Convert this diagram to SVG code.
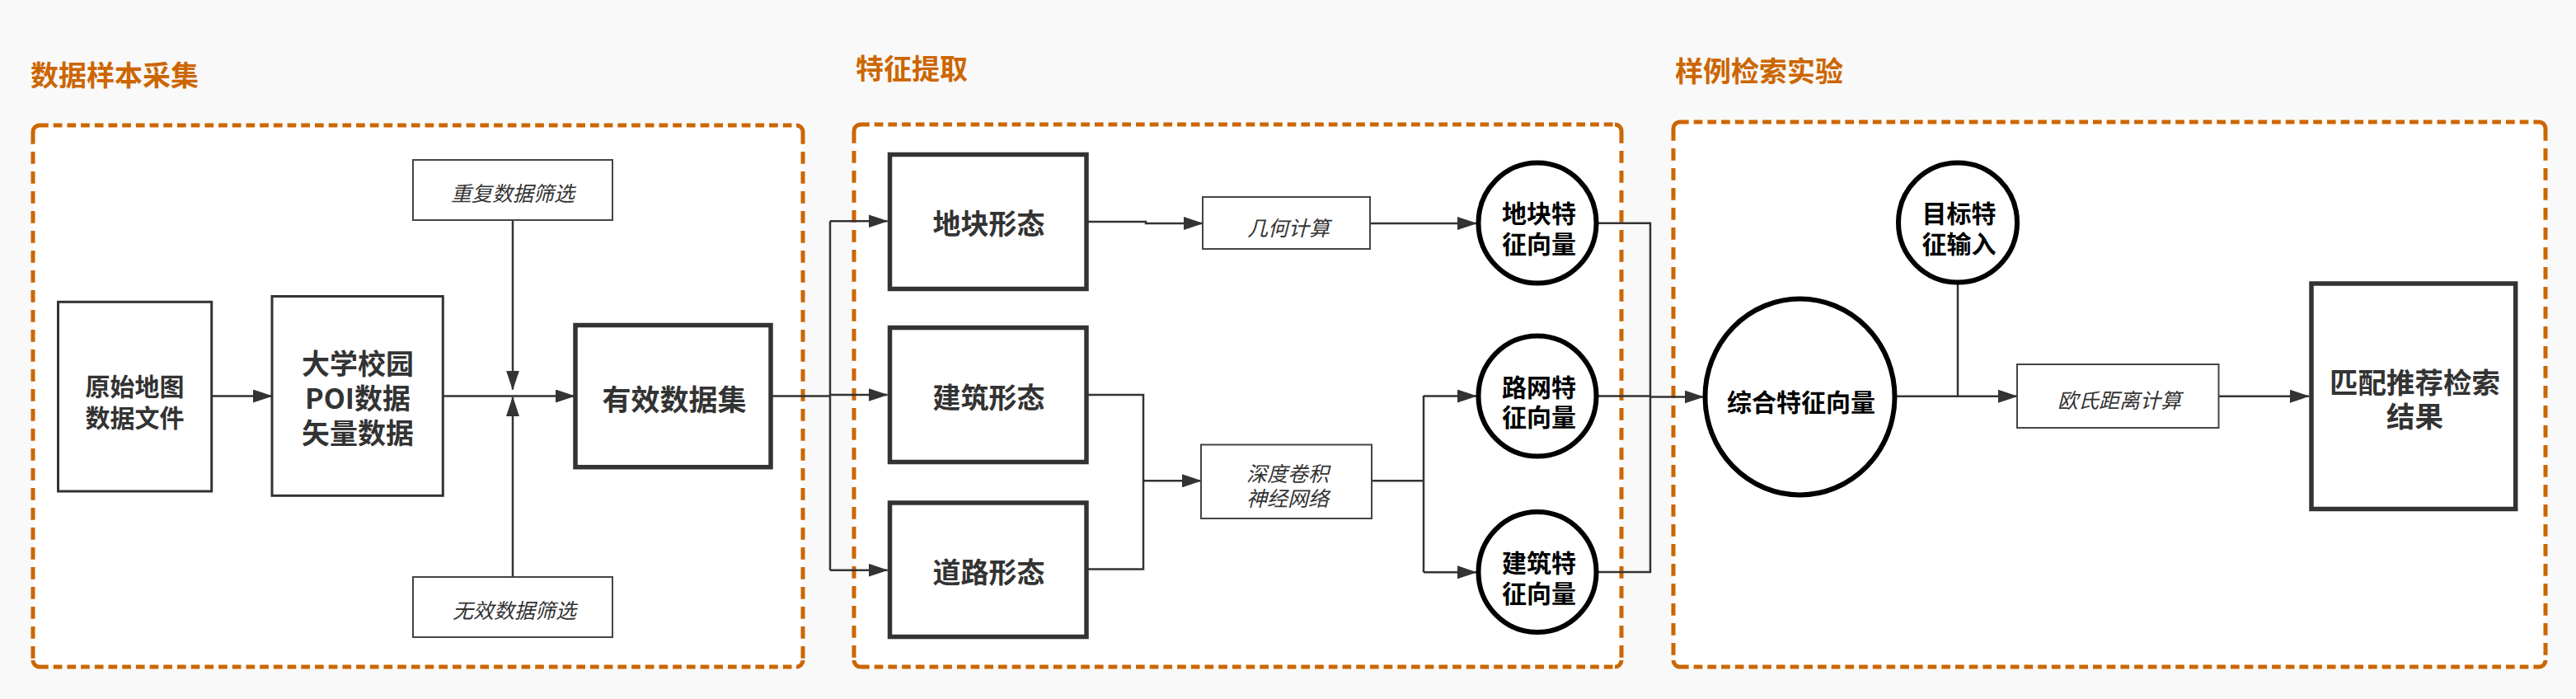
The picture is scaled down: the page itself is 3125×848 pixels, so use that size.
<svg xmlns="http://www.w3.org/2000/svg" width="3125" height="848" viewBox="0 0 3125 848">
<defs>
<marker id="arr" markerWidth="24" markerHeight="16" refX="23" refY="8" orient="auto" markerUnits="userSpaceOnUse"><path d="M0,0 L24,8 L0,16 Z" fill="#333"/></marker>
<style>
.bg{fill:#f9f9f9}
.panel{fill:#fff;stroke:none}
.dh{fill:none;stroke:#cc6600;stroke-width:5;stroke-dasharray:10.7 6}
.dv{fill:none;stroke:#cc6600;stroke-width:5;stroke-dasharray:14.7 9.3}
.dc{fill:none;stroke:#cc6600;stroke-width:5}
.title{font-family:"Noto Sans CJK SC",sans-serif;font-weight:bold;font-size:34px;fill:#cc6600;dominant-baseline:central}
.thick{fill:#fff;stroke:#333;stroke-width:5.5}
.med{fill:#fff;stroke:#333;stroke-width:3}
.thin{fill:#fff;stroke:#444;stroke-width:2}
.circ{fill:#fff;stroke:#000;stroke-width:6}
.bt{font-family:"Noto Sans CJK SC",sans-serif;font-weight:bold;fill:#333;text-anchor:middle;dominant-baseline:central}
.ct{font-family:"Noto Sans CJK SC",sans-serif;font-weight:bold;fill:#000;text-anchor:middle;dominant-baseline:central;font-size:30px}
.it{font-family:"Noto Sans CJK SC",sans-serif;font-style:italic;fill:#333;text-anchor:middle;dominant-baseline:central;font-size:25px}
.con{fill:none;stroke:#333;stroke-width:2.5}
.arw{marker-end:url(#arr)}
</style>
</defs>
<rect class="bg" x="0" y="0" width="3125" height="848"/>

<g id="panel-collect">
<rect class="panel" x="40" y="152" width="934" height="657" rx="8"/>
<path class="dh" d="M48,152 H966 M48,809 H966"/>
<path class="dv" d="M40,160 V801 M974,160 V801"/>
<path class="dc" d="M40,160 A8,8 0 0 1 48,152 M966,152 A8,8 0 0 1 974,160 M974,801 A8,8 0 0 1 966,809 M48,809 A8,8 0 0 1 40,801"/>
<text class="title" x="37" y="89">数据样本采集</text>
</g>

<g id="panel-extract">
<rect class="panel" x="1036" y="151" width="931" height="658" rx="8"/>
<path class="dh" d="M1044,151 H1959 M1044,809 H1959"/>
<path class="dv" d="M1036,159 V801 M1967,159 V801"/>
<path class="dc" d="M1036,159 A8,8 0 0 1 1044,151 M1959,151 A8,8 0 0 1 1967,159 M1967,801 A8,8 0 0 1 1959,809 M1044,809 A8,8 0 0 1 1036,801"/>
<text class="title" x="1038" y="81">特征提取</text>
</g>

<g id="panel-retrieve">
<rect class="panel" x="2030" y="148" width="1058" height="661" rx="8"/>
<path class="dh" d="M2038,148 H3080 M2038,809 H3080"/>
<path class="dv" d="M2030,156 V801 M3088,156 V801"/>
<path class="dc" d="M2030,156 A8,8 0 0 1 2038,148 M3080,148 A8,8 0 0 1 3088,156 M3088,801 A8,8 0 0 1 3080,809 M2038,809 A8,8 0 0 1 2030,801"/>
<text class="title" x="2032" y="84">样例检索实验</text>
</g>

<g id="connectors">
<path class="con arw" d="M257,480.5 H330"/>
<path class="con arw" d="M538,480.5 H697"/>
<path class="con arw" d="M622,267 V472.5"/>
<path class="con arw" d="M622,700 V482"/>
<path class="con" d="M935,480.5 H1007 M1007,268.3 V691.7"/>
<path class="con arw" d="M1007,268.3 H1076.5"/>
<path class="con arw" d="M1007,479 H1076.5"/>
<path class="con arw" d="M1007,691.7 H1076.5"/>
<path class="con arw" d="M1318,269 H1390 V271 H1459"/>
<path class="con arw" d="M1662,271 H1791"/>
<path class="con" d="M1318,479 H1387 V690.5 H1318"/>
<path class="con arw" d="M1387,583.3 H1457"/>
<path class="con" d="M1664,583.3 H1727 M1727,480 V694.3"/>
<path class="con arw" d="M1727,480.5 H1791"/>
<path class="con arw" d="M1727,694.3 H1791"/>
<path class="con" d="M1938,270.7 H2002 V694 H1938 M1938,480.5 H2002"/>
<path class="con arw" d="M2002,481.5 H2066.5"/>
<path class="con" d="M2375,345 V481"/>
<path class="con arw" d="M2301,480.7 H2447"/>
<path class="con arw" d="M2692,480.7 H2801"/>
</g>

<g id="n-raw">
<rect class="med" x="70.5" y="366.3" width="186.2" height="229.7"/>
<text class="bt" x="163.5" font-size="30"><tspan x="163.5" y="466.5">原始地图</tspan><tspan x="163.5" y="505">数据文件</tspan></text>
</g>
<g id="n-poi">
<rect class="med" x="330" y="359.5" width="207.3" height="241.8"/>
<text class="bt" font-size="34"><tspan x="434" y="439">大学校园</tspan><tspan x="434" y="481">POI数据</tspan><tspan x="434" y="522.5">矢量数据</tspan></text>
</g>
<g id="n-dup">
<rect class="thin" x="501" y="194" width="242" height="73"/>
<text class="it" x="622" y="233">重复数据筛选</text>
</g>
<g id="n-invalid">
<rect class="thin" x="501" y="700" width="242" height="73"/>
<text class="it" x="624" y="739" font-size="23">无效数据筛选</text>
</g>
<g id="n-valid">
<rect class="thick" x="698" y="394.5" width="237" height="172.2"/>
<text class="bt" x="818" y="482.5" font-size="35">有效数据集</text>
</g>

<g id="n-parcel">
<rect class="thick" x="1079.5" y="187.5" width="238.5" height="163"/>
<text class="bt" x="1199.5" y="269" font-size="34">地块形态</text>
</g>
<g id="n-building">
<rect class="thick" x="1079.5" y="397.5" width="238.5" height="163"/>
<text class="bt" x="1199.5" y="480" font-size="34">建筑形态</text>
</g>
<g id="n-road">
<rect class="thick" x="1079.5" y="610" width="238.5" height="162.5"/>
<text class="bt" x="1199.5" y="692" font-size="34">道路形态</text>
</g>
<g id="n-geom">
<rect class="thin" x="1459" y="239" width="203" height="63"/>
<text class="it" x="1563" y="275">几何计算</text>
</g>
<g id="n-cnn">
<rect class="thin" x="1457" y="539.5" width="207" height="89.5"/>
<text class="it" font-size="24"><tspan x="1562" y="572.5">深度卷积</tspan><tspan x="1562" y="603">神经网络</tspan></text>
</g>
<g id="n-vparcel">
<ellipse class="circ" cx="1865" cy="270.5" rx="71.5" ry="73"/>
<text class="ct"><tspan x="1867" y="256.5">地块特</tspan><tspan x="1867" y="293.5">征向量</tspan></text>
</g>
<g id="n-vroad">
<ellipse class="circ" cx="1865" cy="480.5" rx="71.5" ry="73"/>
<text class="ct"><tspan x="1867" y="467.5">路网特</tspan><tspan x="1867" y="504">征向量</tspan></text>
</g>
<g id="n-vbuilding">
<ellipse class="circ" cx="1865" cy="694" rx="71.5" ry="73"/>
<text class="ct"><tspan x="1867" y="681">建筑特</tspan><tspan x="1867" y="717.5">征向量</tspan></text>
</g>

<g id="n-target">
<ellipse class="circ" cx="2375" cy="270" rx="72" ry="72.5"/>
<text class="ct"><tspan x="2376.5" y="256.5">目标特</tspan><tspan x="2376.5" y="293.5">征输入</tspan></text>
</g>
<g id="n-combined">
<ellipse class="circ" cx="2183.5" cy="481.5" rx="115" ry="119"/>
<text class="ct" x="2185" y="486">综合特征向量</text>
</g>
<g id="n-euclid">
<rect class="thin" x="2447" y="442" width="244.5" height="77"/>
<text class="it" x="2571" y="484">欧氏距离计算</text>
</g>
<g id="n-result">
<rect class="thick" x="2804" y="344" width="247.7" height="273.5"/>
<text class="bt" font-size="34.5"><tspan x="2929.5" y="462">匹配推荐检索</tspan><tspan x="2929.5" y="503">结果</tspan></text>
</g>
</svg>
